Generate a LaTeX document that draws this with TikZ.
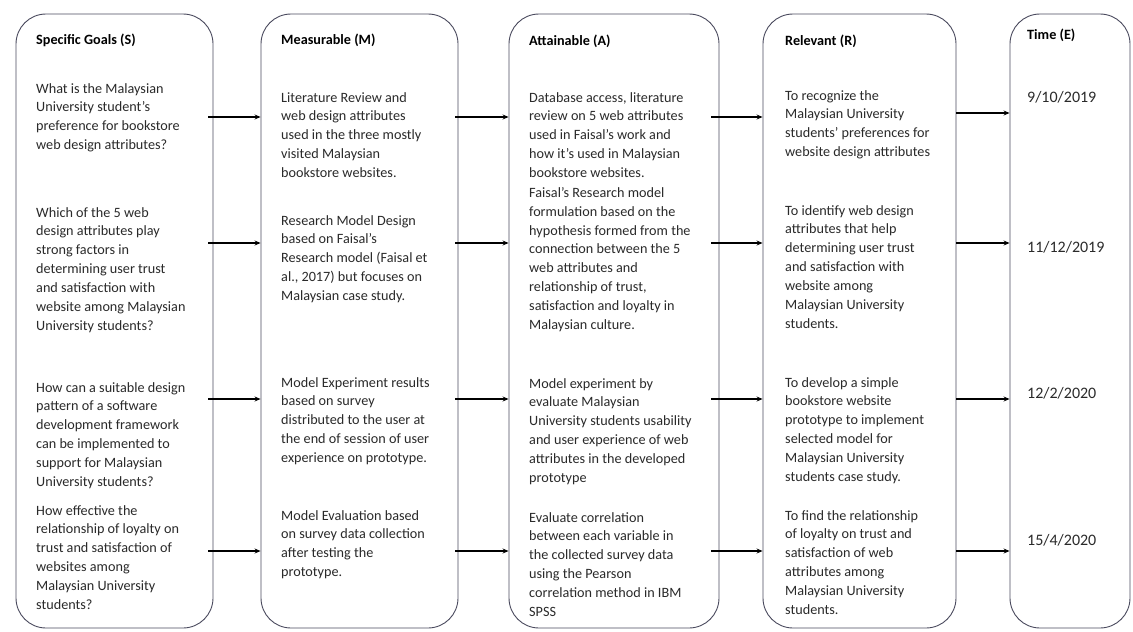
\documentclass[tikz,border=0pt]{standalone}
\usepackage{fontspec}
\setmainfont{Carlito}
\usetikzlibrary{arrows.meta}
\definecolor{boxline}{HTML}{4A4A5E}
\definecolor{txtcol}{HTML}{2A2A2A}
\begin{document}
\begin{tikzpicture}[x=1pt,y=-1pt,
  box/.style={draw=boxline, line width=0.9pt, rounded corners=30pt, inner sep=0pt, minimum height=614pt},
  txt/.style={anchor=north west, align=left, inner sep=0pt, font=\fontsize{14.2}{18.9}\selectfont, text=txtcol, execute at begin node={\strut}},
  head/.style={anchor=base west, inner sep=0pt, font=\fontsize{14.2}{18.8}\selectfont\bfseries, text=black},
  datetxt/.style={anchor=base west, inner sep=0pt, font=\fontsize{16}{19}\selectfont, text=txtcol},
  arr/.style={-{Stealth[length=6pt,width=5pt]}, line width=1.4pt, black}]
\useasboundingbox (0,0) rectangle (1133,632);
\fill[white] (0,0) rectangle (1133,632);

% columns
\node[box, minimum width=197pt] (b1) at (114.5,321) {};
\node[box, minimum width=197pt] (b2) at (359.5,321) {};
\node[box, minimum width=210pt] (b3) at (614,321) {};
\node[box, minimum width=193pt] (b4) at (859.5,321) {};
\node[box, minimum width=120pt] (b5) at (1070,321) {};

% headers
\node[head] (h1) at (36,44) {Specific Goals (S)};
\node[head] (h2) at (281,44) {Measurable (M)};
\node[head] (h3) at (529,45) {Attainable (A)};
\node[head] (h4) at (785,45) {Relevant (R)};
\node[head] (h5) at (1027,39) {Time (E)};

% Specific goals
\node[txt] (s1) at (36,83) {What is the Malaysian\\University student’s\\preference for bookstore\\web design attributes?};
\node[txt] (s2) at (36,207) {Which of the 5 web\\design attributes play\\strong factors in\\determining user trust\\and satisfaction with\\website among Malaysian\\University students?};
\node[txt] (s3) at (36,382) {How can a suitable design\\pattern of a software\\development framework\\can be implemented to\\support for Malaysian\\University students?};
\node[txt] (s4) at (36,505) {How effective the\\relationship of loyalty on\\trust and satisfaction of\\websites among\\Malaysian University\\students?};

% Measurable
\node[txt] (m1) at (281,92) {Literature Review and\\web design attributes\\used in the three mostly\\visited Malaysian\\bookstore websites.};
\node[txt] (m2) at (281,215) {Research Model Design\\based on Faisal’s\\Research model (Faisal et\\al., 2017) but focuses on\\Malaysian case study.};
\node[txt] (m3) at (281,377) {Model Experiment results\\based on survey\\distributed to the user at\\the end of session of user\\experience on prototype.};
\node[txt] (m4) at (281,510) {Model Evaluation based\\on survey data collection\\after testing the\\prototype.};

% Attainable
\node[txt] (a1) at (529,92) {Database access, literature\\review on 5 web attributes\\used in Faisal’s work and\\how it’s used in Malaysian\\bookstore websites.};
\node[txt] (a2) at (529,187) {Faisal’s Research model\\formulation based on the\\hypothesis formed from the\\connection between the 5\\web attributes and\\relationship of trust,\\satisfaction and loyalty in\\Malaysian culture.};
\node[txt] (a3) at (529,378) {Model experiment by\\evaluate Malaysian\\University students usability\\and user experience of web\\attributes in the developed\\prototype};
\node[txt] (a4) at (529,512) {Evaluate correlation\\between each variable in\\the collected survey data\\using the Pearson\\correlation method in IBM\\SPSS};

% Relevant
\node[txt] (r1) at (785,90) {To recognize the\\Malaysian University\\students’ preferences for\\website design attributes};
\node[txt] (r2) at (785,205) {To identify web design\\attributes that help\\determining user trust\\and satisfaction with\\website among\\Malaysian University\\students.};
\node[txt] (r3) at (785,377) {To develop a simple\\bookstore website\\prototype to implement\\selected model for\\Malaysian University\\students case study.};
\node[txt] (r4) at (785,510) {To find the relationship\\of loyalty on trust and\\satisfaction of web\\attributes among\\Malaysian University\\students.};

% Time
\node[datetxt] (t1) at (1027,102) {9/10/2019};
\node[datetxt] (t2) at (1027,252) {11/12/2019};
\node[datetxt] (t3) at (1027,398) {12/2/2020};
\node[datetxt] (t4) at (1027,545) {15/4/2020};

% arrow rows
\coordinate (y1) at (0,117);
\coordinate (y1b) at (0,113);
\coordinate (y2) at (0,243);
\coordinate (y3) at (0,399);
\coordinate (y4) at (0,551);

\foreach \ya in {y1, y2, y3, y4}{
  \draw[arr] ([xshift=-5pt]b1.east |- \ya) -- (b2.west |- \ya);
  \draw[arr] ([xshift=-3pt]b2.east |- \ya) -- (b3.west |- \ya);
  \draw[arr] ([xshift=-8pt]b3.east |- \ya) -- (b4.west |- \ya);
}
\draw[arr] (b4.east |- y1b) -- (b5.west |- y1b);
\draw[arr] (b4.east |- y2) -- (b5.west |- y2);
\draw[arr] (b4.east |- y3) -- (b5.west |- y3);
\draw[arr] (b4.east |- y4) -- (b5.west |- y4);
\end{tikzpicture}
\end{document}
